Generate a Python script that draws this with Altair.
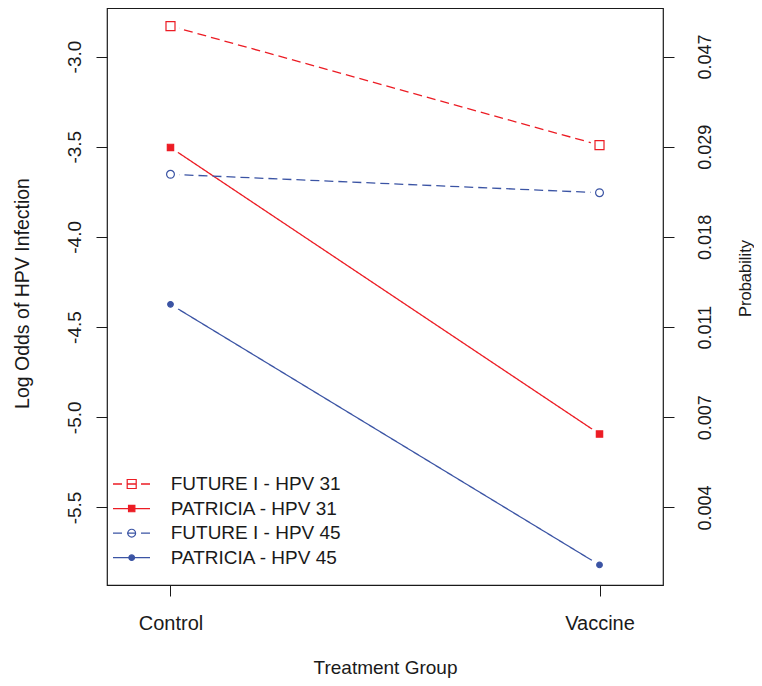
import altair as alt
import pandas as pd

# ---------------- data ----------------
groups = ["Control", "Vaccine"]
group_pos = [1, 2]
series_names = ["FUTURE I - HPV 31", "PATRICIA - HPV 31", "FUTURE I - HPV 45", "PATRICIA - HPV 45"]
control_logodds = [-2.831, -3.504, -3.653, -4.374]
vaccine_logodds = [-3.491, -5.093, -3.755, -5.819]
left_ticks = [-3.0, -3.5, -4.0, -4.5, -5.0, -5.5]

RED = "#ec1c24"
BLUE = "#3b54a4"
series_colors = [RED, RED, BLUE, BLUE]
series_dash = [[9, 5], [1, 0], [9, 5], [1, 0]]
series_shape = ["square", "square", "circle", "circle"]
series_fill_opacity = [0, 1, 0, 1]
series_size = [81, 40, 61, 31]

FONT = "Liberation Sans"
INK = "#1a1a1a"

rows = []
for i, s in enumerate(series_names):
    rows.append(dict(series=s, group=groups[0], pos=group_pos[0], logodds=control_logodds[i]))
    rows.append(dict(series=s, group=groups[1], pos=group_pos[1], logodds=vaccine_logodds[i]))
df = pd.DataFrame(rows)
leg = pd.DataFrame({"series": series_names, "row": list(range(len(series_names)))})

# ---------------- scales / axes ----------------
xscale = alt.Scale(domain=[0.852, 2.148], nice=False, zero=False)
yscale = alt.Scale(domain=[-5.93, -2.731], nice=False, zero=False)
lyscale = alt.Scale(domain=[0, 3], range=[476, 549.7], nice=False, zero=False)

x_label_expr = f"datum.value == {group_pos[0]} ? '{groups[0]}' : '{groups[1]}'"
x_axis = alt.Axis(
    values=group_pos, labelExpr=x_label_expr, title="Treatment Group",
    tickSize=11, labelFontSize=20, labelBaseline="alphabetic", labelPadding=33,
    titleFontSize=19, titleBaseline="alphabetic", titleY=88, labelFlush=False,
)
x_enc = alt.X("pos:Q", scale=xscale, axis=x_axis)

left_axis = alt.Axis(
    orient="left", values=left_ticks,
    labelExpr="(datum.value < 0 ? '-' : '') + format(abs(datum.value), '.1f')",
    labelAngle=-90, labelAlign="center", labelBaseline="middle",
    labelFontSize=19, tickSize=11, labelPadding=22,
    title="Log Odds of HPV Infection", titleFontSize=19.5, titleAngle=-90,
    titleX=-85, titleY=285, titleAlign="center", titleBaseline="middle",
)
right_axis = alt.Axis(
    orient="right", values=left_ticks,
    labelExpr="format(1/(1+exp(-datum.value)), '.3f')",
    labelAngle=-90, labelAlign="center", labelBaseline="middle",
    labelFontSize=18, tickSize=11, labelPadding=31,
    title="Probability", titleFontSize=16.5, titleAngle=-90,
    titleX=82, titleY=270, titleAlign="center", titleBaseline="middle",
)

color = alt.Color("series:N", scale=alt.Scale(domain=series_names, range=series_colors), legend=None)
stroke = alt.Stroke("series:N", scale=alt.Scale(domain=series_names, range=series_colors), legend=None)
dash = alt.StrokeDash("series:N", scale=alt.Scale(domain=series_names, range=series_dash), legend=None)
shape = alt.Shape("series:N", scale=alt.Scale(domain=series_names, range=series_shape), legend=None)
size = alt.Size("series:N", scale=alt.Scale(type="ordinal", domain=series_names, range=series_size), legend=None)
fop = alt.FillOpacity("series:N", scale=alt.Scale(type="ordinal", domain=series_names, range=series_fill_opacity), legend=None)

base = alt.Chart(df)

lines = base.mark_line(strokeWidth=1.3).encode(
    x=x_enc, y=alt.Y("logodds:Q", scale=yscale, axis=left_axis),
    color=color, strokeDash=dash, order="pos:Q",
)
halo = base.mark_point(filled=True, color="white", opacity=1, size=330, shape="circle").encode(
    x=x_enc, y=alt.Y("logodds:Q", scale=yscale, axis=None),
)
points = base.mark_point(filled=True, opacity=1, strokeWidth=1.2).encode(
    x=x_enc, y=alt.Y("logodds:Q", scale=yscale, axis=right_axis),
    color=color, stroke=stroke, shape=shape, size=size, fillOpacity=fop,
)

lbase = alt.Chart(leg)
ly = alt.Y("row:Q", scale=lyscale, axis=None)
leg_line = lbase.mark_rule(strokeWidth=1.3).encode(
    x=alt.value(6), x2=alt.value(43), y=ly, color=color, strokeDash=dash,
)
leg_pt = lbase.mark_point(filled=True, opacity=1, strokeWidth=1.2).encode(
    x=alt.value(24.7), y=ly, color=color, stroke=stroke, shape=shape, size=size, fillOpacity=fop,
)
leg_txt = lbase.mark_text(align="left", baseline="middle", fontSize=19, font=FONT, color=INK).encode(
    x=alt.value(63.7), y=ly, text="series:N",
)

chart = (
    alt.layer(lines, halo, points, leg_line, leg_pt, leg_txt)
    .resolve_scale(y="independent")
    .properties(
        width=556, height=577,
        padding={"left": 99, "top": 0, "right": 91, "bottom": 93},
        autosize=alt.AutoSizeParams(type="none"),
        background="white",
    )
    .configure_view(stroke=INK, strokeWidth=1.2)
    .configure_axis(
        domain=False, grid=False, tickColor=INK, tickWidth=1,
        labelColor=INK, titleColor=INK, labelFont=FONT, titleFont=FONT,
        titleFontWeight="normal",
    )
)

chart.save("out.html", embed_options={"renderer": "svg", "actions": False})
